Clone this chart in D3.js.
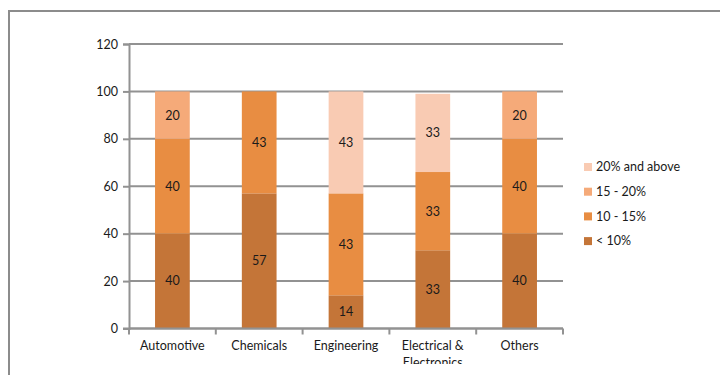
<!DOCTYPE html>
<html>
<head>
<meta charset="utf-8">
<script src="https://cdn.jsdelivr.net/npm/d3@7"></script>
<style>
  html, body { margin: 0; padding: 0; background: #fff; overflow: hidden; }
  svg { display: block; font-family: Lato, "Open Sans", sans-serif; }
</style>
</head>
<body>
<svg id="chart" width="720" height="375"></svg>
<script>
// Sector categories and stacked share values (percent of respondents)
const categories = ["Automotive", "Chemicals", "Engineering", "Electrical & Electronics", "Others"];
const seriesNames = ["< 10%", "10 - 15%", "15 - 20%", "20% and above"];
const below10   = [40, 57, 14, 33, 40];
const from10to15 = [40, 43, 43, 33, 40];
const from15to20 = [20, 0, 0, 0, 20];
const above20   = [0, 0, 43, 33, 0];
const yTicks = [0, 20, 40, 60, 80, 100, 120];
const colors = ["#C47538", "#E88D42", "#F5AA79", "#F9CBB3"];

const seriesValues = [below10, from10to15, from15to20, above20];
const rows = categories.map((c, i) => {
  const r = { category: c };
  seriesNames.forEach((s, k) => { r[s] = seriesValues[k][i]; });
  return r;
});

const svg = d3.select("#chart");
const margin = { left: 129, right: 157, top: 44, bottom: 46 };
const W = 720, H = 375;

svg.append("defs").append("clipPath").attr("id", "labelClip")
  .append("rect").attr("x", 0).attr("y", 0).attr("width", W).attr("height", 364);

// Outer chart frame (top and left edges visible)
svg.append("path")
  .attr("d", `M9,375 V11 H720`)
  .attr("fill", "none").attr("stroke", "#8c8c8c").attr("stroke-width", 2);

const x = d3.scaleBand().domain(categories)
  .range([margin.left, W - margin.right]).paddingInner(0.6).paddingOuter(0.3);
const y = d3.scaleLinear().domain([0, 120]).range([H - margin.bottom - 0.5, margin.top]);

// Horizontal gridlines
svg.append("g").selectAll("line").data(yTicks).join("line")
  .attr("x1", margin.left).attr("x2", W - margin.right)
  .attr("y1", d => y(d)).attr("y2", d => y(d))
  .attr("stroke", "#929292").attr("stroke-width", 2);

// Stacked bars
const stack = d3.stack().keys(seriesNames)(rows);
const layers = svg.append("g").selectAll("g").data(stack).join("g")
  .attr("fill", (d, i) => colors[i]);
layers.selectAll("rect").data(d => d).join("rect")
  .attr("x", d => x(d.data.category))
  .attr("width", x.bandwidth())
  .attr("y", d => y(d[1]))
  .attr("height", d => y(d[0]) - y(d[1]));

// Value labels inside segments
layers.each(function (layer) {
  d3.select(this).selectAll("text").data(layer.filter(d => d[1] - d[0] > 0)).join("text")
    .attr("x", d => x(d.data.category) + x.bandwidth() / 2)
    .attr("y", d => (y(d[0]) + y(d[1])) / 2)
    .attr("dy", "0.35em")
    .attr("text-anchor", "middle")
    .attr("font-size", 12.5).attr("fill", "#1a1a1a")
    .text(d => d[1] - d[0]);
});

// Y axis
const yAxis = svg.append("g").attr("transform", `translate(${margin.left},0)`)
  .call(d3.axisLeft(y).tickValues(yTicks).tickSize(6).tickPadding(5));
yAxis.select(".domain").attr("stroke", "#929292").attr("stroke-width", 2);
yAxis.selectAll(".tick line").attr("stroke", "#929292").attr("stroke-width", 2);
yAxis.selectAll("text").attr("font-size", 12.5).attr("fill", "#1a1a1a").attr("font-family", "Lato, sans-serif");

// X axis with ticks between categories
const xAxisY = y(0);
svg.append("line").attr("x1", margin.left - 6).attr("x2", W - margin.right)
  .attr("y1", xAxisY).attr("y2", xAxisY).attr("stroke", "#929292").attr("stroke-width", 2);
const bounds = d3.range(categories.length + 1).map(i => margin.left + i * (W - margin.left - margin.right) / categories.length);
svg.append("g").selectAll("line").data(bounds).join("line")
  .attr("x1", d => d).attr("x2", d => d)
  .attr("y1", xAxisY).attr("y2", xAxisY + 6)
  .attr("stroke", "#929292").attr("stroke-width", 2);

const xl = svg.append("g").attr("clip-path", "url(#labelClip)")
  .selectAll("text").data(categories).join("text")
  .attr("x", d => x(d) + x.bandwidth() / 2)
  .attr("y", 350)
  .attr("text-anchor", "middle")
  .attr("font-size", 12.5).attr("fill", "#1a1a1a");
xl.each(function (d) {
  const t = d3.select(this);
  const parts = d === "Electrical & Electronics" ? ["Electrical &", "Electronics"] : [d];
  parts.forEach((p, i) => t.append("tspan").attr("x", t.attr("x")).attr("dy", i ? 17 : 0).text(p));
});

// Legend (top series first)
const legendItems = seriesNames.map((s, i) => ({ s, c: colors[i] })).reverse();
const lg = svg.append("g").selectAll("g").data(legendItems).join("g")
  .attr("transform", (d, i) => `translate(584, ${167 + i * 24.7})`);
lg.append("rect").attr("x", 0).attr("y", -4).attr("width", 8).attr("height", 8).attr("fill", d => d.c);
lg.append("text").attr("x", 12).attr("y", 0).attr("dy", "0.35em")
  .attr("font-size", 12.5).attr("fill", "#1a1a1a").text(d => d.s);
</script>
</body>
</html>
